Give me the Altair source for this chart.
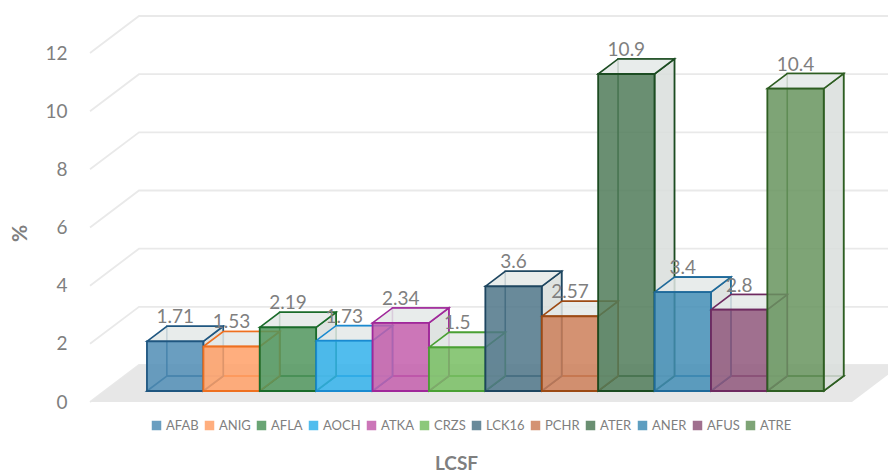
import altair as alt
import pandas as pd

# ---------------- data ----------------
names = ["AFAB", "ANIG", "AFLA", "AOCH", "ATKA", "CRZS",
         "LCK16", "PCHR", "ATER", "ANER", "AFUS", "ATRE"]
values = [1.71, 1.53, 2.19, 1.73, 2.34, 1.5, 3.6, 2.57, 10.9, 3.4, 2.8, 10.4]
value_labels = ["1.71", "1.53", "2.19", "1.73", "2.34", "1.5",
                "3.6", "2.57", "10.9", "3.4", "2.8", "10.4"]
y_ticks = [0, 2, 4, 6, 8, 10, 12]

# ---------------- styles ----------------
fill_colors = ["#508db5", "#ffa067", "#50955d", "#33b1eb", "#c35eab", "#78be63",
               "#4f7588", "#cd7f59", "#507b59", "#428db5", "#8f577b", "#67945e"]
stroke_colors = ["#1f5680", "#ee7020", "#1a6b2a", "#1a8ad0", "#a0289a", "#4aa034",
                 "#1e4660", "#9c4a14", "#1c4c22", "#1f6a9a", "#6e2a60", "#2e5e22"]
TEXT = "#7f7f7f"
FONT = "Lato"

# ---------------- oblique geometry (data units) ----------------
PXX = 56.4            # px per bar slot
PXY = 349 / 12        # px per value unit
DX = 49 / PXX         # full floor depth, x component
DY = 37 / PXY         # full floor depth, y component
Z1, Z2 = 0.297, 0.703 # bar front / back depth
XMIN = (90 - 132.4) / PXX
XMAX = XMIN + 798 / PXX
FL, FR = XMIN, (852 - 132.4) / PXX
W, H = 798, 349

fx1, fy1 = Z1 * DX, Z1 * DY
fx2, fy2 = Z2 * DX, Z2 * DY

front, back, bottom, side, top, lab = [], [], [], [], [], []
for i, (n, v, t) in enumerate(zip(names, values, value_labels)):
    front.append(dict(name=n, series=n, x=i + fx1, x2=i + 1 + fx1, y=fy1, y2=v + fy1))
    back.append(dict(name=n, x=i + fx2, x2=i + 1 + fx2, y=fy2, y2=v + fy2))
    bottom += [dict(name=n, x=i + fx1, y=fy1, y2=fy1),
               dict(name=n, x=i + fx2, y=fy2, y2=fy1),
               dict(name=n, x=i + 1 + fx1, y=fy2, y2=fy1),
               dict(name=n, x=i + 1 + fx2, y=fy2, y2=fy2)]
    side += [dict(name=n, x=i + 1 + fx1, y=v + fy1, y2=fy1),
             dict(name=n, x=i + 1 + fx2, y=v + fy2, y2=fy2)]
    top += [dict(name=n, x=i + fx1, y=v + fy1, y2=v + fy1),
            dict(name=n, x=i + fx2, y=v + fy2, y2=v + fy1),
            dict(name=n, x=i + 1 + fx1, y=v + fy2, y2=v + fy1),
            dict(name=n, x=i + 1 + fx2, y=v + fy2, y2=v + fy2)]
    lab.append(dict(name=n, x=i + 0.5 + fx1, y=v + fy2, t=t))

floor = [dict(x=FL, y=0, y2=0), dict(x=FL + DX, y=DY, y2=0),
         dict(x=FR, y=DY, y2=0), dict(x=FR + DX, y=DY, y2=DY)]
grid = []
for g in y_ticks:
    grid += [dict(g=g, k=0, x=FL, y=g), dict(g=g, k=1, x=FL + DX, y=g + DY),
             dict(g=g, k=2, x=XMAX + 0.2, y=g + DY)]

# ---------------- encodings ----------------
xenc = alt.X("x:Q", scale=alt.Scale(domain=[XMIN, XMAX], nice=False, zero=False),
             axis=alt.Axis(labels=False, ticks=False, domain=False, grid=False,
                           title="LCSF", titleFont=FONT, titleFontSize=19,
                           titleFontWeight="bold", titleColor=TEXT,
                           titleX=366, titleY=67, titleBaseline="alphabetic",
                           titleAlign="center"))
yenc = alt.Y("y:Q", stack=None,
             scale=alt.Scale(domain=[0, 12], nice=False, zero=False),
             axis=alt.Axis(values=y_ticks, grid=False, ticks=False, domain=False,
                           labelFont=FONT, labelFontSize=19, labelColor=TEXT,
                           labelPadding=23, title="%", titleFont=FONT,
                           titleFontSize=21, titleFontWeight="bold",
                           titleColor=TEXT, titleX=-70, titleY=180,
                           titleAngle=270, titleAlign="center",
                           titleBaseline="middle"))
stroke_enc = alt.Stroke("name:N", scale=alt.Scale(domain=names, range=stroke_colors),
                        legend=None)

grid_layer = alt.Chart(pd.DataFrame(grid)).mark_line(
    color="#e9e9e9", strokeWidth=1.8).encode(
    x=xenc, y=yenc, detail="g:N", order="k:Q")

floor_layer = alt.Chart(pd.DataFrame(floor)).mark_area(
    orient="vertical", color="#e7e7e7").encode(x=xenc, y=yenc, y2="y2:Q")

back_layer = alt.Chart(pd.DataFrame(back)).mark_rect(
    fillOpacity=0, strokeWidth=1.6).encode(
    x=xenc, x2="x2:Q", y=yenc, y2="y2:Q", stroke=stroke_enc)

bottom_layer = alt.Chart(pd.DataFrame(bottom)).mark_area(
    orient="vertical", fillOpacity=0, strokeWidth=1.6).encode(
    x=xenc, y=yenc, y2="y2:Q", stroke=stroke_enc)

side_layer = alt.Chart(pd.DataFrame(side)).mark_area(
    orient="vertical", fill="#d9dedc", fillOpacity=0.85, strokeWidth=1.6).encode(
    x=xenc, y=yenc, y2="y2:Q", stroke=stroke_enc)

top_layer = alt.Chart(pd.DataFrame(top)).mark_area(
    orient="vertical", fill="#e4e9e7", fillOpacity=0.85, strokeWidth=1.6).encode(
    x=xenc, y=yenc, y2="y2:Q", stroke=stroke_enc)

front_layer = alt.Chart(pd.DataFrame(front)).mark_rect(
    fillOpacity=0.85, strokeWidth=1.8).encode(
    x=xenc, x2="x2:Q", y=yenc, y2="y2:Q",
    fill=alt.Fill("series:N", title=None,
                  scale=alt.Scale(domain=names, range=fill_colors),
                  legend=alt.Legend(orient="none", legendX=60, legendY=366,
                                    direction="horizontal", columns=12,
                                    gridAlign="none",
                                    symbolType="square", symbolSize=90,
                                    symbolOpacity=0.85, symbolStrokeWidth=0,
                                    labelFont=FONT, labelFontSize=13,
                                    labelColor=TEXT, columnPadding=4,
                                    labelOffset=3)),
    stroke=stroke_enc)

text_layer = alt.Chart(pd.DataFrame(lab)).mark_text(
    font=FONT, fontSize=19, color=TEXT, baseline="alphabetic", dy=-3).encode(
    x=xenc, y=yenc, text="t:N")

chart = alt.layer(grid_layer, floor_layer, back_layer, bottom_layer, side_layer,
                  top_layer, front_layer, text_layer).properties(
    width=W, height=H,
    autosize=alt.AutoSizeParams(type="none"),
    padding={"left": 90, "top": 53, "right": 0, "bottom": 71},
).resolve_legend(fill="independent", stroke="independent").configure_view(stroke=None)

chart.save("out.html", embed_options={"renderer": "svg", "actions": False})
